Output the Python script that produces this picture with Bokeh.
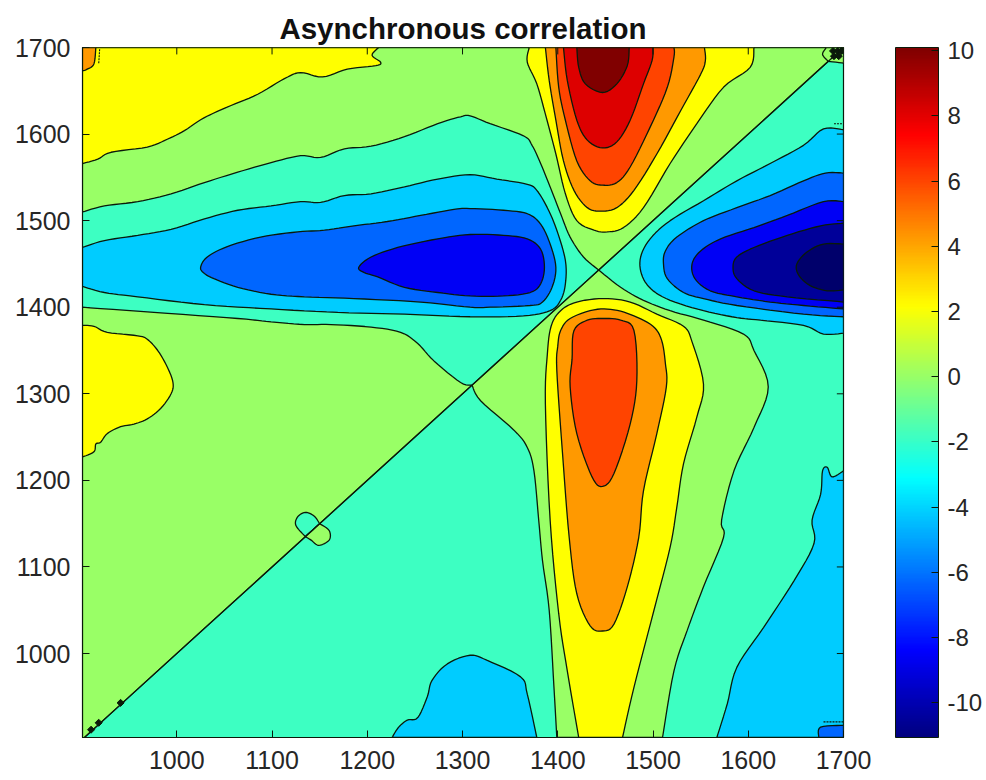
from bokeh.plotting import figure
from bokeh.embed import file_html
from bokeh.resources import INLINE
from bokeh.models import Range1d, FixedTicker, ColorBar, LinearColorMapper

title_text = "Asynchronous correlation"
x_ticks = [1000, 1100, 1200, 1300, 1400, 1500, 1600, 1700]
y_ticks = [1000, 1100, 1200, 1300, 1400, 1500, 1600, 1700]
bar_ticks = [-10, -8, -6, -4, -2, 0, 2, 4, 6, 8, 10]
x_lim = (901, 1700)
y_lim = (903, 1700)
bar_lim = (-11.07, 10.1)

# contour outlines, in axis units (wavenumber, wavenumber)
green_low = [(901,901),(1310,1310),(1298,1313),(1270,1338),(1253,1358),(1235,1371),(1204,1377),(1162,1380),(1134,1380),(1099,1383),(1064,1387),(976,1394),(901,1400)]
green_up = [(901,1510),(924,1517),(959,1522),(994,1531),(1029,1544),(1064,1556),(1099,1567),(1130,1575),(1151,1573),(1176,1583),(1204,1586),(1239,1597),(1274,1612),(1298,1620),(1308,1621),(1329,1612),(1364,1598),(1373,1587),(1382,1566),(1392,1539),(1403,1508),(1413,1481),(1427,1458),(1443,1443),(1700,1700),(901,1700)]
yellow_ul = [(901,1700),(1212,1700),(1205,1691),(1214,1683),(1209,1679),(1179,1675),(1153,1666),(1130,1671),(1113,1664),(1085,1646),(1057,1633),(1029,1619),(1008,1604),(990,1594),(969,1585),(931,1579),(917,1571),(901,1566)]
yellow_ll = [(901,1379),(913,1378),(927,1371),(959,1367),(969,1363),(980,1350),(990,1331),(996,1313),(994,1300),(983,1283),(969,1271),(955,1265),(941,1262),(927,1254),(920,1244),(915,1242),(913,1233),(901,1227)]
orange_corner = [(901,1700),(915,1700),(913,1681),(906,1675),(901,1673)]
lightblue_l = [(901,1469),(924,1477),(959,1483),(994,1490),(1029,1502),(1064,1512),(1099,1517),(1130,1522),(1151,1521),(1176,1529),(1204,1531),(1239,1539),(1274,1548),(1308,1553),(1336,1548),(1368,1542),(1378,1535),(1389,1515),(1399,1489),(1408,1454),(1408,1427),(1403,1408),(1392,1396),(1364,1390),(1308,1389),(1239,1392),(1169,1394),(1099,1398),(1029,1403),(959,1412),(924,1417),(901,1424)]
midblue_l = [(1025,1446),(1032,1458),(1053,1470),(1088,1481),(1127,1487),(1155,1489),(1186,1494),(1221,1499),(1256,1506),(1291,1513),(1308,1514),(1343,1512),(1368,1508),(1382,1496),(1392,1473),(1398,1446),(1394,1423),(1384,1406),(1371,1402),(1329,1400),(1308,1400),(1256,1406),(1186,1410),(1134,1412),(1099,1415),(1064,1423),(1039,1433),(1029,1439)]
blue_l = [(1191,1446),(1204,1458),(1232,1469),(1274,1479),(1308,1484),(1343,1483),(1368,1479),(1382,1467),(1386,1446),(1382,1427),(1371,1417),(1343,1413),(1308,1413),(1274,1417),(1239,1423),(1211,1435),(1197,1440)]
lightblue_r = [(1700,1605),(1679,1606),(1658,1587),(1623,1566),(1588,1546),(1553,1523),(1518,1500),(1497,1479),(1487,1458),(1488,1438),(1498,1421),(1518,1408),(1553,1396),(1588,1388),(1613,1385),(1658,1379),(1679,1369),(1700,1370)]
midblue_r = [(1700,1555),(1681,1555),(1658,1546),(1623,1529),(1588,1515),(1553,1500),(1525,1481),(1513,1465),(1511,1450),(1515,1433),(1532,1417),(1553,1410),(1588,1402),(1658,1392),(1700,1389)]
blue_r = [(1700,1522),(1679,1522),(1641,1506),(1606,1492),(1571,1479),(1550,1465),(1541,1450),(1544,1433),(1560,1419),(1588,1412),(1623,1406),(1658,1402),(1700,1398)]
navy_r = [(1700,1497),(1676,1494),(1641,1483),(1606,1469),(1588,1458),(1584,1446),(1588,1433),(1606,1419),(1641,1412),(1700,1406)]
darknavy_r = [(1700,1473),(1679,1473),(1662,1464),(1651,1450),(1653,1437),(1665,1425),(1683,1419),(1700,1420)]
yellow_top = [(1370,1700),(1368,1683),(1378,1658),(1387,1623),(1398,1577),(1408,1531),(1420,1500),(1438,1489),(1452,1487),(1469,1492),(1490,1515),(1518,1566),(1546,1612),(1574,1654),(1602,1677),(1606,1700)]
orange_top = [(1387,1700),(1391,1662),(1398,1616),(1406,1569),(1417,1535),(1431,1515),(1445,1511),(1462,1515),(1480,1535),(1504,1577),(1529,1627),(1550,1669),(1555,1685),(1554,1700)]
redorange_top = [(1398,1700),(1401,1654),(1408,1616),(1420,1569),(1434,1546),(1447,1541),(1462,1544),(1476,1562),(1497,1608),(1515,1654),(1522,1689),(1522,1700)]
red_top = [(1406,1700),(1410,1662),(1420,1616),(1431,1593),(1447,1584),(1462,1591),(1476,1616),(1490,1658),(1499,1685),(1500,1700)]
darkred_top = [(1420,1700),(1422,1677),(1429,1658),(1447,1648),(1462,1658),(1473,1679),(1475,1700)]
green_wedge = [(1443,1443),(1310,1310),(1319,1292),(1354,1258),(1368,1238),(1375,1211),(1380,1154),(1384,1107),(1391,1050),(1396,961),(1399,903),(1510,903),(1522,980),(1536,1027),(1553,1077),(1574,1134),(1572,1154),(1585,1211),(1606,1261),(1621,1308),(1606,1350),(1595,1369),(1553,1385),(1518,1396),(1490,1408),(1466,1423)]
yellow_bot = [(1393,1378),(1403,1396),(1420,1406),(1448,1410),(1476,1406),(1504,1392),(1532,1378),(1541,1360),(1553,1311),(1546,1273),(1532,1219),(1525,1169),(1518,1123),(1501,1050),(1480,961),(1468,903),(1422,903),(1410,980),(1401,1046),(1392,1154),(1387,1288),(1389,1345)]
orange_bot = [(1403,1373),(1413,1387),(1438,1397),(1459,1397),(1480,1390),(1500,1378),(1509,1362),(1513,1335),(1514,1308),(1504,1254),(1490,1188),(1485,1134),(1473,1077),(1459,1034),(1447,1026),(1434,1032),(1420,1069),(1412,1134),(1405,1231),(1399,1327),(1400,1355)]
redorange_bot = [(1417,1373),(1431,1385),(1448,1387),(1466,1385),(1480,1373),(1483,1315),(1476,1265),(1459,1208),(1447,1193),(1436,1204),(1420,1254),(1413,1308),(1415,1340)]
lightblue_b1 = [(1226,903),(1233,915),(1242,923),(1253,926),(1263,950),(1268,969),(1284,988),(1308,998),(1326,992),(1361,973),(1368,953),(1378,903)]
lightblue_b2 = [(1567,903),(1578,942),(1588,984),(1616,1030),(1648,1084),(1669,1127),(1667,1154),(1676,1184),(1678,1211),(1683,1215),(1688,1204),(1700,1211),(1700,903)]
midblue_corner = [(1674,903),(1676,915),(1700,917),(1700,903)]
clover_up = [(1135,1135),(1125,1148),(1127,1158),(1135,1163),(1144,1159),(1150,1150)]
clover_down = [(1150,1150),(1160,1142),(1160,1131),(1149,1125),(1141,1131),(1135,1135)]
corner_loop = [(1682,1700),(1678,1692),(1684,1684),(1700,1682),(1700,1700)]

# the contour's diagonal, the knots on it and short stray contour pieces
diagonal_x = [901, 1700]
diagonal_y = [901, 1700]
knots_x = [910, 918, 941, 1689, 1694, 1698, 1690, 1695]
knots_y = [912, 920, 943, 1696, 1696, 1696, 1690, 1690]
stray_a = [(919,1698),(918,1681)]
stray_b = [(1679,921),(1700,921)]
stray_c = [(1690,1612),(1700,1612)]

aqua, green, yellow, orange_c, redorange, red, darkred = "#3dffc2", "#99ff66", "#ffff00", "#ff9900", "#ff4400", "#dd0000", "#800000"
lightblue, midblue, blue, navy, darknavy = "#00ccff", "#0066ff", "#0000f5", "#000099", "#00006b"
ink, text_c = "#0a1a0a", "#262626"

layers = [
    (green_low, green), (green_up, green), (yellow_ul, yellow), (yellow_ll, yellow), (orange_corner, orange_c),
    (lightblue_l, lightblue), (midblue_l, midblue), (blue_l, blue),
    (lightblue_r, lightblue), (midblue_r, midblue), (blue_r, blue), (navy_r, navy), (darknavy_r, darknavy),
    (yellow_top, yellow), (orange_top, orange_c), (redorange_top, redorange), (red_top, red), (darkred_top, darkred),
    (green_wedge, green), (yellow_bot, yellow), (orange_bot, orange_c), (redorange_bot, redorange),
    (lightblue_b1, lightblue), (lightblue_b2, lightblue), (midblue_corner, midblue),
    (clover_up, aqua), (clover_down, green), (corner_loop, green),
]

def jet(t):
    c = lambda v: int(round(255 * max(0.0, min(1.0, v))))
    return "#%02x%02x%02x" % (c(1.5 - abs(4*t - 3)), c(1.5 - abs(4*t - 2)), c(1.5 - abs(4*t - 1)))

palette = [jet(i / 255) for i in range(256)]

def is_hard(q):
    return q[0] in x_lim or q[1] in y_lim or abs(q[0] - q[1]) <= 1

def spline(run, steps=6):
    # Catmull-Rom through the read points, as the contours are smooth curves
    pts = [run[0]] + list(run) + [run[-1]]
    out = []
    for i in range(1, len(pts) - 2):
        p0, p1, p2, p3 = pts[i-1], pts[i], pts[i+1], pts[i+2]
        for k in range(steps):
            t = k / steps
            out.append(tuple(0.5 * (2*p1[a] + (p2[a]-p0[a])*t + (2*p0[a]-5*p1[a]+4*p2[a]-p3[a])*t*t
                                    + (3*p1[a]-p0[a]-3*p2[a]+p3[a])*t*t*t) for a in (0, 1)))
    return out

def smooth(s):
    hard = [i for i, q in enumerate(s) if is_hard(q)]
    if not hard:
        n = len(s)
        ring = [s[-1]] + list(s) + [s[0], s[1]]
        out = []
        for i in range(1, n + 1):
            out += spline(ring[i-1:i+3])[6:12]
        return out
    start = hard[0]
    r = list(s[start:]) + list(s[:start]) + [s[start]]
    out, run = [], [r[0]]
    for q in r[1:]:
        run.append(q)
        if is_hard(q):
            out += spline(run)
            run = [q]
    return out

smoothed = [smooth(s) for s, _ in layers]

p = figure(frame_width=761, frame_height=690, x_range=Range1d(*x_lim), y_range=Range1d(*y_lim),
           output_backend="svg", toolbar_location=None, min_border_left=82, min_border_right=142,
           min_border_top=47, min_border_bottom=41, title=title_text)
p.background_fill_color = aqua
p.border_fill_color = "white"
p.outline_line_color = ink
p.outline_line_width = 1.2
p.grid.visible = False
p.title.align = "center"
p.title.text_font = "Liberation Sans"
p.title.text_font_size = "29.5px"
p.title.text_font_style = "bold"
p.title.text_color = "#111111"
p.title.standoff = 5

p.patches([[q[0] for q in s] for s in smoothed], [[q[1] for q in s] for s in smoothed],
          fill_color=[c for _, c in layers], line_color=ink, line_width=1.3)
p.line(diagonal_x, diagonal_y, line_color=ink, line_width=1.2)
p.scatter(knots_x, knots_y, size=5, marker="square", angle=0.785, fill_color=ink, line_color=ink)
for seg in (stray_a, stray_b, stray_c):
    p.line([q[0] for q in seg], [q[1] for q in seg], line_color=ink, line_width=1.1, line_dash="2 1")

# inward ticks on the top and right edges of the box
tick_len_x, tick_len_y = 7, 8
p.segment(x_ticks, [y_lim[1]]*len(x_ticks), x_ticks, [y_lim[1]-tick_len_y]*len(x_ticks), line_color=ink, line_width=1)
p.segment([x_lim[1]]*len(y_ticks), y_ticks, [x_lim[1]-tick_len_x]*len(y_ticks), y_ticks, line_color=ink, line_width=1)

for ax, ticks in ((p.xaxis[0], x_ticks), (p.yaxis[0], y_ticks)):
    ax.ticker = FixedTicker(ticks=ticks)
    ax.major_tick_in = 7
    ax.major_tick_out = 0
    ax.minor_tick_line_color = None
    ax.axis_line_color = ink
    ax.major_tick_line_color = ink
    ax.major_label_text_font = "Liberation Sans"
    ax.major_label_text_font_size = "25px"
    ax.major_label_text_color = text_c
p.xaxis[0].major_label_standoff = 13
p.yaxis[0].major_label_standoff = 12

mapper = LinearColorMapper(palette=palette, low=bar_lim[0], high=bar_lim[1])
cb = ColorBar(color_mapper=mapper, ticker=FixedTicker(ticks=bar_ticks), width=43, height=690,
              padding=0, location=(813, 0), major_tick_in=7, major_tick_line_color=ink,
              minor_tick_line_color=None, bar_line_color=ink, label_standoff=9,
              major_label_text_font="Liberation Sans", major_label_text_font_size="24px",
              major_label_text_color=text_c, background_fill_color=None, border_line_color=None,
              major_label_overrides={t: str(t) for t in bar_ticks})
p.add_layout(cb, "center")

open("out.html", "w").write(file_html(p, INLINE))
